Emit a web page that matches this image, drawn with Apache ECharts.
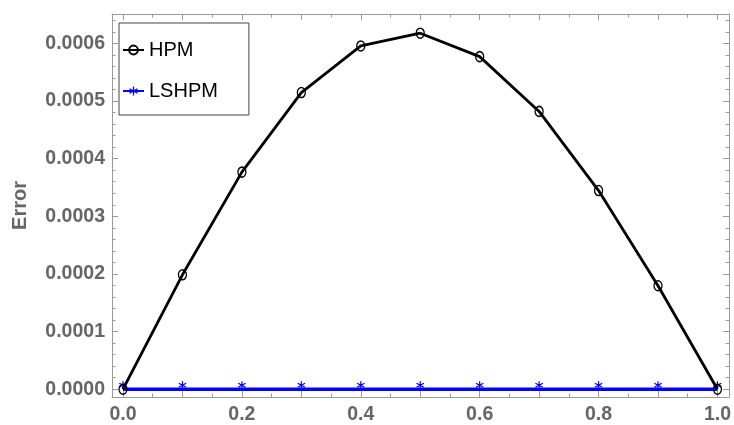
<!DOCTYPE html>
<html>
<head>
<meta charset="utf-8">
<script src="https://cdn.jsdelivr.net/npm/echarts@6/dist/echarts.min.js"></script>
<style>html,body{margin:0;padding:0;background:#fff;}#c{width:734px;height:425px;}</style>
</head>
<body>
<div id="c"></div>
<script>
var xValues = [0, 0.1, 0.2, 0.3, 0.4, 0.5, 0.6, 0.7, 0.8, 0.9, 1.0];
var hpm = [0, 0.0001985, 0.0003766, 0.0005147, 0.0005956, 0.0006177, 0.000577, 0.000482, 0.0003447, 0.0001795, 0];
var lshpm = [0, 1e-8, 2e-8, 2e-8, 3e-8, 3e-8, 3e-8, 2e-8, 2e-8, 1e-8, 0];
var xLabelTicks = [0, 0.2, 0.4, 0.6, 0.8, 1.0];
var xMajorTicks = [0, 0.1, 0.2, 0.3, 0.4, 0.5, 0.6, 0.7, 0.8, 0.9, 1.0];
var xMinorTicks = [0.05, 0.15, 0.25, 0.35, 0.45, 0.55, 0.65, 0.75, 0.85, 0.95];
var yMajorTicks = [0, 0.0001, 0.0002, 0.0003, 0.0004, 0.0005, 0.0006];
var yMinorTicks = [0.00002, 0.00004, 0.00006, 0.00008, 0.00012, 0.00014, 0.00016, 0.00018,
  0.00022, 0.00024, 0.00026, 0.00028, 0.00032, 0.00034, 0.00036, 0.00038,
  0.00042, 0.00044, 0.00046, 0.00048, 0.00052, 0.00054, 0.00056, 0.00058, 0.00062, 0.00064];
var seriesNames = ['HPM', 'LSHPM'];
var yName = 'Error';

var XMIN = -0.0185, XMAX = 1.0196;
var YMIN = -0.0000135, YMAX = 0.000651;
var FONT = 'Liberation Sans, Arial, sans-serif';
var frameColor = '#9a9a9a';
var labelColor = '#666666';
var starPath = 'path://M-0.7,-5 L-0.7,5 L0.7,5 L0.7,-5 Z M3.98,3.106 L4.68,1.894 L-3.98,-3.106 L-4.68,-1.894 Z M-4.68,1.894 L-3.98,3.106 L4.68,-1.894 L3.98,-3.106 Z';

function mkX(pos, ticks, len, showLine, labels) {
  return {
    type: 'value', position: pos, min: XMIN, max: XMAX,
    axisLine: {show: showLine, onZero: false, lineStyle: {color: frameColor, width: 1}},
    axisTick: {show: true, inside: true, length: len, customValues: ticks, lineStyle: {color: frameColor, width: 1}},
    axisLabel: labels ? {show: true, customValues: xLabelTicks, margin: 8, color: labelColor, fontSize: 19.5, fontWeight: 'bold', fontFamily: FONT,
      formatter: function (v) { return (+v).toFixed(1); }} : {show: false},
    splitLine: {show: false}, minorTick: {show: false}
  };
}
function mkY(pos, ticks, len, showLine, labels, named) {
  var a = {
    type: 'value', position: pos, min: YMIN, max: YMAX,
    axisLine: {show: showLine, onZero: false, lineStyle: {color: frameColor, width: 1}},
    axisTick: {show: true, inside: true, length: len, customValues: ticks, lineStyle: {color: frameColor, width: 1}},
    axisLabel: labels ? {show: true, customValues: yMajorTicks, margin: 7, color: labelColor, fontSize: 19.5, fontWeight: 'bold', fontFamily: FONT,
      formatter: function (v) { return (+v).toFixed(4); }} : {show: false},
    splitLine: {show: false}, minorTick: {show: false}
  };
  if (named) {
    a.name = yName; a.nameLocation = 'middle'; a.nameGap = 82; a.nameRotate = 90;
    a.nameTextStyle = {color: labelColor, fontSize: 20, fontWeight: 'bold', fontFamily: FONT};
  }
  return a;
}

var chart = echarts.init(document.getElementById('c'), null, {renderer: 'canvas'});
chart.setOption({
  animation: false,
  backgroundColor: '#fff',
  grid: {left: 112, right: 4, top: 14, bottom: 28, containLabel: false},
  legend: {
    left: 119, top: 23, orient: 'vertical',
    backgroundColor: '#fff', borderColor: '#444', borderWidth: 1,
    padding: [17, 31, 14, 3], itemGap: 21, itemWidth: 21, itemHeight: 11,
    textStyle: {fontSize: 20, color: '#000', fontFamily: FONT},
    data: seriesNames
  },
  xAxis: [
    mkX('bottom', xMajorTicks, 6, true, true),
    mkX('bottom', xMinorTicks, 3.5, false, false),
    mkX('top', xMajorTicks, 6, true, false),
    mkX('top', xMinorTicks, 3.5, false, false)
  ],
  yAxis: [
    mkY('left', yMajorTicks, 6, true, true, true),
    mkY('left', yMinorTicks, 3.5, false, false, false),
    mkY('right', yMajorTicks, 6, true, false, false),
    mkY('right', yMinorTicks, 3.5, false, false, false)
  ],
  series: [
    {
      name: seriesNames[0], type: 'line', z: 4,
      data: xValues.map(function (x, i) { return [x, hpm[i]]; }),
      symbol: 'circle', symbolSize: [8, 10],
      lineStyle: {color: '#000', width: 2.8},
      itemStyle: {color: 'rgba(0,0,0,0)', borderColor: '#000', borderWidth: 1.4}
    },
    {
      name: seriesNames[1], type: 'line', z: 3,
      data: xValues.map(function (x, i) { return [x, lshpm[i]]; }),
      symbol: starPath, symbolSize: 8, symbolOffset: [0, -4],
      lineStyle: {color: '#0000ff', width: 3.5},
      itemStyle: {color: '#0000ff'}
    }
  ]
});
</script>
</body>
</html>
